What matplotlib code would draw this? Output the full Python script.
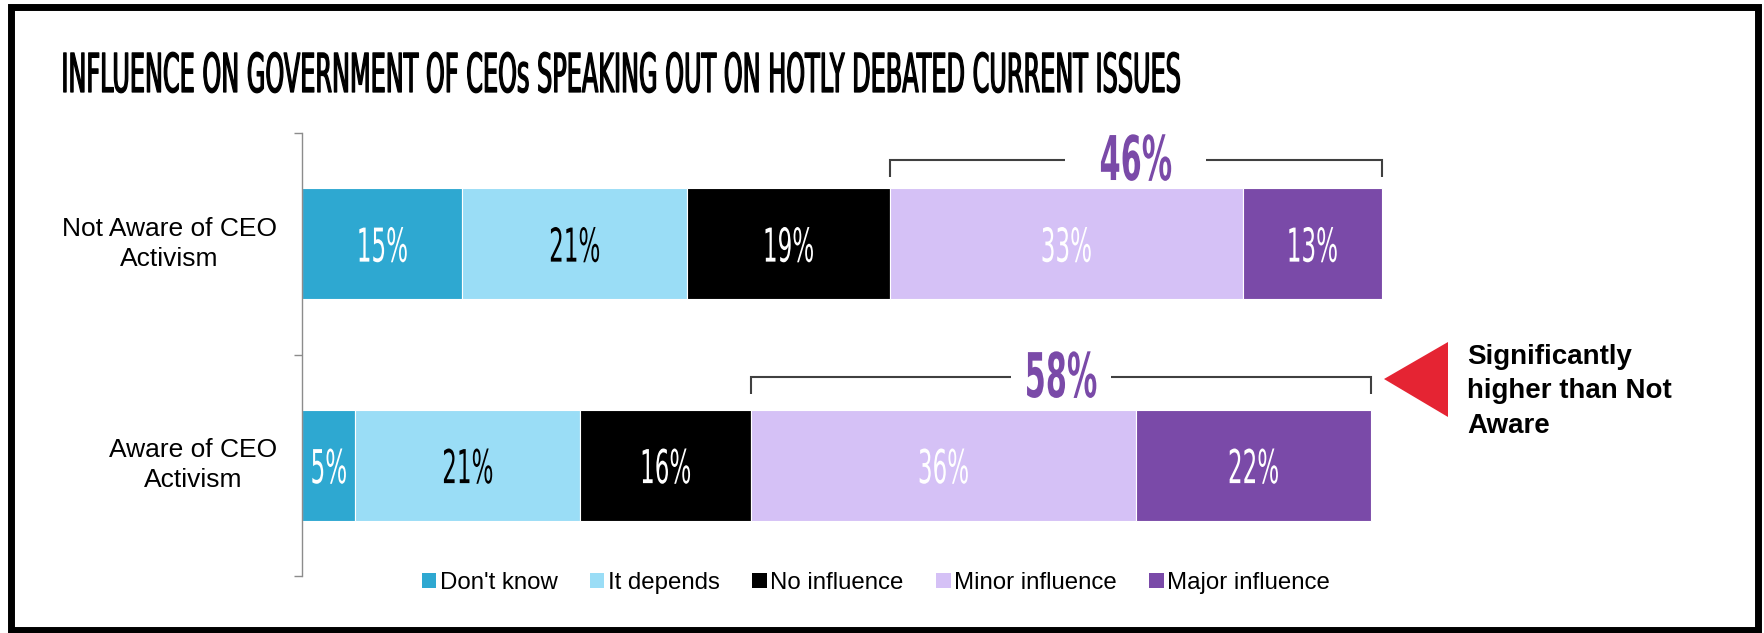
import matplotlib
matplotlib.use("Agg")
import matplotlib.pyplot as plt
import numpy as np
from matplotlib.patheffects import AbstractPathEffect
from matplotlib.transforms import Affine2D, ScaledTranslation
from matplotlib.patches import Rectangle, Polygon, Patch

# ---- data -------------------------------------------------------------
groups = ["Not Aware of CEO\nActivism", "Aware of CEO\nActivism"]
responses = ["Don't know", "It depends", "No influence",
             "Minor influence", "Major influence"]
not_aware = [15, 21, 19, 33, 13]
aware = [5, 21, 16, 36, 22]
title = "INFLUENCE ON GOVERNMENT OF CEOs SPEAKING OUT ON HOTLY DEBATED CURRENT ISSUES"
callout = "Significantly\nhigher than Not\nAware"

# ---- style ------------------------------------------------------------
colors = ["#2EA8D1", "#9ADDF6", "#000000", "#D5C1F6", "#7A4AA8"]
label_colors = ["white", "black", "white", "white", "white"]
influence_color = "#7A4AA8"
bracket_color = "#404040"
axis_color = "#8C8C8C"
arrow_color = "#E52433"
sans = "Liberation Sans"


class Squeeze(AbstractPathEffect):
    """Redraw text glyphs with a separate horizontal / vertical scale,
    giving a tall condensed display face."""

    def __init__(self, sx, sy=1.0, xanchor="center", yanchor="center", stroke=0.0):
        super().__init__()
        self.sx = sx
        self.sy = sy
        self.xanchor = xanchor
        self.yanchor = yanchor
        self.stroke = stroke

    def draw_path(self, renderer, gc, tpath, affine, rgbFace=None):
        ext = tpath.get_extents(affine)
        x0 = ext.x0 if self.xanchor == "left" else 0.5 * (ext.x0 + ext.x1)
        if self.yanchor == "baseline":
            y0 = affine.get_matrix()[1, 2]
        else:
            y0 = 0.5 * (ext.y0 + ext.y1)
        squeeze = (Affine2D().translate(-x0, -y0)
                   .scale(self.sx, self.sy).translate(x0, y0))
        aff = affine + squeeze
        if self.stroke > 0 and rgbFace is not None:
            gc0 = renderer.new_gc()
            gc0.copy_properties(gc)
            gc0.set_linewidth(self.stroke)
            gc0.set_foreground(rgbFace)
            gc0.set_joinstyle("round")
            renderer.draw_path(gc0, tpath, aff, rgbFace)
            gc0.restore()
        else:
            renderer.draw_path(gc, tpath, aff, rgbFace)


W, H = 1765, 633
fig = plt.figure(figsize=(W / 100, H / 100), dpi=100)


def fx(px):
    return px / W


def fy(py):
    return 1 - py / H


ax = fig.add_axes([fx(302), fy(576), fx(1371) - fx(302), fy(133) - fy(576)])

rows = [not_aware, aware]
ypos = np.arange(len(groups))[::-1]          # first group on top
bar_h = 0.5

for y, vals in zip(ypos, rows):
    left = 0
    for v, c, lc in zip(vals, colors, label_colors):
        ax.barh(y, v, left=left, height=bar_h, color=c,
                edgecolor="white", linewidth=0.8, clip_on=False)
        ax.text(left + v / 2, y, f"{v}%", ha="center", va="center_baseline",
                color=lc, fontsize=20, family="DejaVu Sans",
                path_effects=[Squeeze(0.83, 1.68)], clip_on=False)
        left += v

# brackets grouping minor + major influence
bracket_rise = [0.38, 0.40]
bracket_drop = 0.08
bracket_gap = [6.6, 4.7]
for y, vals, rise, gap in zip(ypos, rows, bracket_rise, bracket_gap):
    start = sum(vals[:3])
    end = sum(vals)
    total = vals[3] + vals[4]
    mid = (start + end) / 2
    ly = y + rise
    ax.plot([start, start, mid - gap], [ly - bracket_drop, ly, ly],
            color=bracket_color, lw=1.5, clip_on=False,
            solid_joinstyle="miter", solid_capstyle="butt")
    ax.plot([mid + gap, end, end], [ly, ly, ly - bracket_drop],
            color=bracket_color, lw=1.5, clip_on=False,
            solid_joinstyle="miter", solid_capstyle="butt")
    ax.text(mid, ly + 0.013, f"{total}%", ha="center", va="center_baseline",
            color=influence_color, fontsize=24, fontweight="bold",
            family="DejaVu Sans", path_effects=[Squeeze(0.91, 1.85)],
            clip_on=False)

# axes
ax.set_xlim(0, 100)
ax.set_ylim(-0.5, 1.5)
for s in ["top", "right", "bottom"]:
    ax.spines[s].set_visible(False)
ax.spines["left"].set_color(axis_color)
ax.spines["left"].set_linewidth(1)
ax.set_xticks([])
ax.set_yticks([])
ax.set_yticks([-0.5, 0.5, 1.5], minor=True)
ax.tick_params(axis="y", which="minor", length=6, width=1, color=axis_color)

# group names, centred beside each bar
name_tf = ax.get_yaxis_transform() + ScaledTranslation(-25 / 100, 0, fig.dpi_scale_trans)
for y, g in zip(ypos, groups):
    ax.text(0, y, g, transform=name_tf, ha="right", va="center",
            multialignment="center", fontsize=19, family=sans,
            linespacing=1.33, clip_on=False)

# legend
handles = [Patch(facecolor=c, edgecolor="none") for c in colors]
fig.legend(handles, responses, loc="center", bbox_to_anchor=(fx(876), fy(583)),
           ncol=5, frameon=False, prop={"family": sans, "size": 17.3},
           handlelength=0.6, handleheight=0.6, handletextpad=0.15,
           columnspacing=1.35, borderaxespad=0, borderpad=0)

# title
title_fx = Squeeze(1.0, 1.93, xanchor="left", yanchor="baseline", stroke=0.9)
title_text = fig.text(fx(61), fy(92), title, ha="left", va="baseline",
                      fontsize=20, family="DejaVu Sans",
                      path_effects=[title_fx])

# callout
fig.add_artist(Polygon([[fx(1384), fy(379)], [fx(1448), fy(342)], [fx(1448), fy(417)]],
                       closed=True, transform=fig.transFigure,
                       facecolor=arrow_color, edgecolor="none"))
fig.text(fx(1467), fy(433), callout, ha="left", va="baseline", fontsize=20,
         fontweight="bold", family=sans, linespacing=1.43)

# outer frame
fig.add_artist(Rectangle((fx(10.5), fy(629.5)), fx(1758.5) - fx(10.5),
                         fy(6.5) - fy(629.5), transform=fig.transFigure,
                         fill=False, edgecolor="black", linewidth=5.0))

# fit the condensed title to its line length
fig.canvas.draw()
title_fx.sx = 1119 / title_text.get_window_extent().width

fig.savefig("out.png", dpi=100)
